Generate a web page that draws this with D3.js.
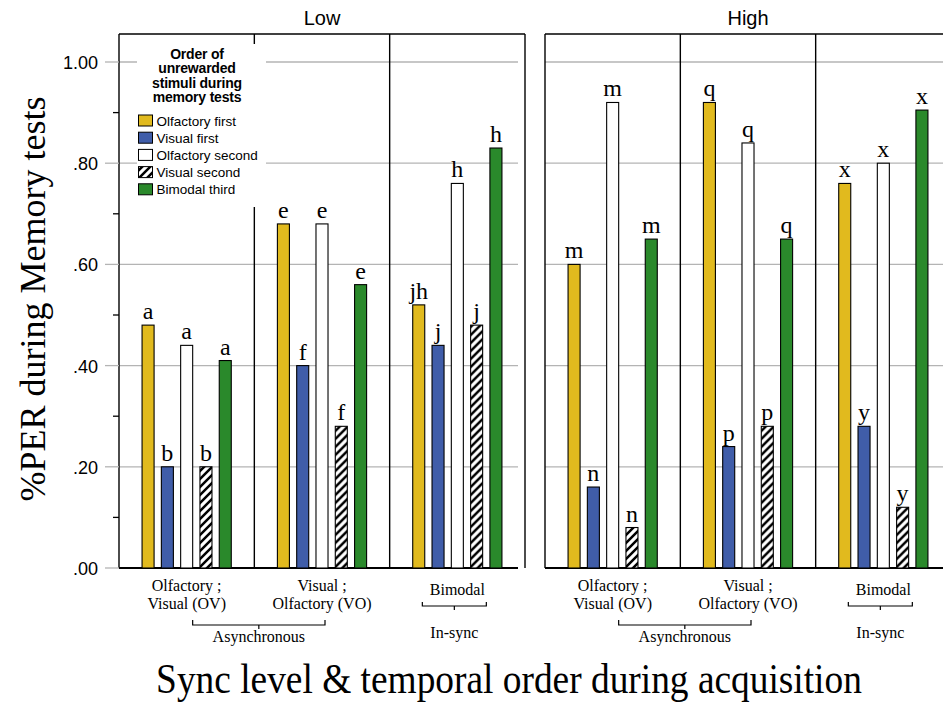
<!DOCTYPE html>
<html>
<head>
<meta charset="utf-8">
<script src="https://cdn.jsdelivr.net/npm/d3@7"></script>
<style>
  body { margin: 0; background: #fff; }
  svg { display: block; }
</style>
</head>
<body>
<svg id="chart" width="943" height="702"></svg>
<script>
// ---- data ----
const syncLevels = ["Low", "High"];
const orders = ["OV", "VO", "Bimodal"];
const orderLabels = [["Olfactory ;", "Visual (OV)"], ["Visual ;", "Olfactory (VO)"], ["Bimodal"]];
const series = ["Olfactory first", "Visual first", "Olfactory second", "Visual second", "Bimodal third"];
const seriesFill = ["#E1BA1E", "#405DA9", "#FFFFFF", "url(#hatch)", "#2A892B"];

// proportion of PER; rows = acquisition order (OV, VO, Bimodal), columns = series
const lowValues = [
  [0.48, 0.20, 0.44, 0.20, 0.41],
  [0.68, 0.40, 0.68, 0.28, 0.56],
  [0.52, 0.44, 0.76, 0.48, 0.83]
];
const highValues = [
  [0.60, 0.16, 0.92, 0.08, 0.65],
  [0.92, 0.24, 0.84, 0.28, 0.65],
  [0.76, 0.28, 0.80, 0.12, 0.905]
];
const lowLetters = [
  ["a", "b", "a", "b", "a"],
  ["e", "f", "e", "f", "e"],
  ["jh", "j", "h", "j", "h"]
];
const highLetters = [
  ["m", "n", "m", "n", "m"],
  ["q", "p", "q", "p", "q"],
  ["x", "y", "x", "y", "x"]
];
const groupNames = ["Asynchronous", "In-sync"];
const yTicks = [0, 0.2, 0.4, 0.6, 0.8, 1.0];
const yTickLabels = [".00", ".20", ".40", ".60", ".80", "1.00"];
const yMinorTicks = [0.1, 0.3, 0.5, 0.7, 0.9];
const legendTitle = ["Order of", "unrewarded", "stimuli during", "memory tests"];

const valuesByLevel = { Low: lowValues, High: highValues };
const lettersByLevel = { Low: lowLetters, High: highLetters };

// ---- layout ----
const svg = d3.select("#chart");
const SERIF = "'Liberation Serif', 'Times New Roman', serif";
const SANS = "'Liberation Sans', Arial, sans-serif";
const plotTop = 34, plotBottom = 568;

const y = d3.scaleLinear().domain([0, 1]).range([plotBottom, 62]);
const xPanel = d3.scaleBand().domain(syncLevels).range([119, 951]).paddingInner(20 / 426);
const panelW = xPanel.bandwidth();
const xOrder = d3.scaleBand().domain(orders).range([0, panelW]);
const subW = xOrder.bandwidth();
const xSeries = d3.scaleBand().domain(series).range([0, subW]).paddingInner(0.377).paddingOuter(1.195);

// hatch pattern for "Visual second"
const defs = svg.append("defs");
const pat = defs.append("pattern").attr("id", "hatch")
  .attr("patternUnits", "userSpaceOnUse").attr("width", 8).attr("height", 8);
pat.append("rect").attr("width", 8).attr("height", 8).attr("fill", "#fff");
pat.append("path").attr("d", "M-2,2 L2,-2 M0,8 L8,0 M6,10 L10,6")
  .attr("stroke", "#000").attr("stroke-width", 2.5);

// text helper with optional horizontal squeeze
function label(g, x, yy, txt, opts) {
  const t = g.append("text")
    .attr("transform", `translate(${x},${yy}) scale(${opts.sx || 1},1)`)
    .attr("text-anchor", opts.anchor || "middle")
    .attr("font-family", opts.family || SERIF)
    .attr("font-size", opts.size)
    .attr("fill", "#000")
    .text(txt);
  if (opts.weight) t.attr("font-weight", opts.weight);
  return t;
}

syncLevels.forEach(level => {
  const x0 = xPanel(level);
  const g = svg.append("g").attr("transform", `translate(${x0},0)`);

  // gridlines
  g.selectAll("line.grid").data(yTicks.filter(t => t > 0)).join("line")
    .attr("x1", 0).attr("x2", panelW - 7)
    .attr("y1", d => y(d)).attr("y2", d => y(d))
    .attr("stroke", "#b4b4b4").attr("stroke-width", 1.3);

  // frame and dividers
  const frame = g.append("g").attr("stroke", "#000").attr("stroke-width", 1.4);
  frame.append("line").attr("x1", 0).attr("x2", panelW).attr("y1", plotTop).attr("y2", plotTop);
  frame.selectAll("line.v").data(d3.range(orders.length + 1)).join("line")
    .attr("x1", i => i * subW).attr("x2", i => i * subW)
    .attr("y1", plotTop).attr("y2", plotBottom);
  frame.append("line").attr("x1", 0).attr("x2", panelW - 7).attr("y1", plotBottom).attr("y2", plotBottom)
    .attr("stroke-width", 1.8);

  // panel title
  label(g, panelW / 2, 25, level, { family: SANS, size: 20 });

  // bars
  orders.forEach((ord, oi) => {
    const og = g.append("g").attr("transform", `translate(${xOrder(ord)},0)`);
    const vals = valuesByLevel[level][oi];
    const lets = lettersByLevel[level][oi];
    og.selectAll("rect").data(vals).join("rect")
      .attr("x", (d, i) => xSeries(series[i]))
      .attr("width", xSeries.bandwidth())
      .attr("y", d => y(d))
      .attr("height", d => y(0) - y(d))
      .attr("fill", (d, i) => seriesFill[i])
      .attr("stroke", "#000").attr("stroke-width", 1.1);
    og.selectAll("text.let").data(vals).join("text")
      .attr("x", (d, i) => xSeries(series[i]) + xSeries.bandwidth() / 2)
      .attr("y", d => y(d) - 6)
      .attr("text-anchor", "middle")
      .attr("font-family", SERIF).attr("font-size", 24)
      .text((d, i) => lets[i]);

    // category labels below the axis
    const cx = xOrder(ord) + subW / 2;
    const lines = orderLabels[oi];
    if (lines.length === 2) {
      label(g, cx, 591, lines[0], { size: 16 });
      label(g, cx, 609, lines[1], { size: 16 });
    } else {
      label(g, cx, 595, lines[0], { size: 16 });
    }
  });

  // brackets
  const br = g.append("g").attr("fill", "none").attr("stroke", "#000").attr("stroke-width", 1.2);
  const aL = xOrder("OV") + subW / 2 + 6, aR = xOrder("VO") + subW / 2 + 3, aM = (aL + aR) / 2;
  br.append("path").attr("d", `M${aL},620 V625 H${aR} V620 M${aM},625 V629`);
  label(g, aM, 642, groupNames[0], { size: 16 });
  const bM = xOrder("Bimodal") + subW / 2 - 3;
  br.append("path").attr("d", `M${bM - 32},602 V606 H${bM + 32} V602 M${bM},606 V610`);
  label(g, bM, 638, groupNames[1], { size: 16 });
});

// y axis on the first panel
const ax = svg.append("g");
const axX = xPanel("Low");
ax.selectAll("line.maj").data(yTicks).join("line")
  .attr("x1", axX - 14).attr("x2", axX).attr("y1", d => y(d)).attr("y2", d => y(d))
  .attr("stroke", "#b4b4b4").attr("stroke-width", 1.3);
ax.selectAll("line.min").data(yMinorTicks).join("line")
  .attr("x1", axX - 6).attr("x2", axX).attr("y1", d => y(d)).attr("y2", d => y(d))
  .attr("stroke", "#000").attr("stroke-width", 1.3);
yTicks.forEach((t, i) => {
  label(ax, 98, y(t) + 7, yTickLabels[i], { family: SANS, size: 19, sx: 0.95, anchor: "end" });
});

// axis titles
svg.append("text")
  .attr("transform", "translate(45,299) rotate(-90)")
  .attr("text-anchor", "middle")
  .attr("font-family", SERIF).attr("font-size", 36)
  .text("%PER during Memory tests");
label(svg, 509, 693, "Sync level & temporal order during acquisition", { size: 42, sx: 0.89 });

// legend
const lg = svg.append("g").attr("transform", "translate(137,44)");
lg.append("rect").attr("width", 129).attr("height", 163).attr("fill", "#fff");
legendTitle.forEach((s, i) => {
  lg.append("text").attr("x", 60).attr("y", 14.5 + i * 14.6)
    .attr("text-anchor", "middle").attr("font-family", SANS)
    .attr("font-weight", "bold").attr("font-size", 14).attr("letter-spacing", -0.2)
    .text(s);
});
series.forEach((s, i) => {
  const yy = 71 + i * 17.2;
  lg.append("rect").attr("x", 1.5).attr("y", yy).attr("width", 14).attr("height", 11)
    .attr("fill", seriesFill[i]).attr("stroke", "#000").attr("stroke-width", 1);
  lg.append("text").attr("x", 19.5).attr("y", yy + 10.5)
    .attr("font-family", SANS).attr("font-size", 13.5)
    .text(s);
});
</script>
</body>
</html>
